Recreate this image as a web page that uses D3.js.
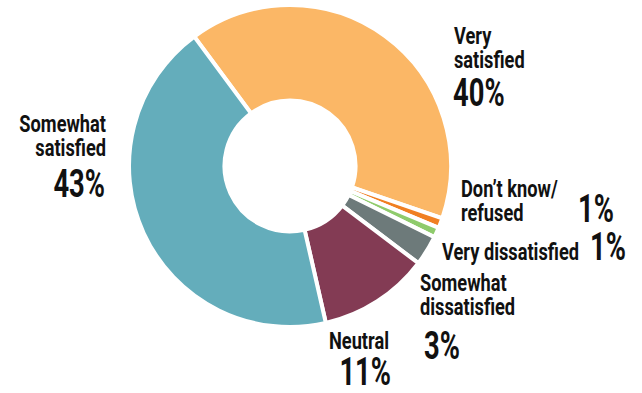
<!DOCTYPE html>
<html>
<head>
<meta charset="utf-8">
<script src="https://cdn.jsdelivr.net/npm/d3@7"></script>
<style>
  body { margin: 0; background: #fff; }
  text { font-family: Roboto, "Open Sans", sans-serif; fill: #111; }
</style>
</head>
<body>
<div id="chart"></div>
<script>
var categories = ["Very satisfied", "Don't know/refused", "Very dissatisfied", "Somewhat dissatisfied", "Neutral", "Somewhat satisfied"];
var values = [40, 1, 1, 3, 11, 43];
var colors = ["#fbb766", "#f07f22", "#8fcb6c", "#6d7a7a", "#833b54", "#64adbb"];
var labelLines = [["Very", "satisfied"], ["Don\u2019t know/", "refused"], ["Very dissatisfied"], ["Somewhat", "dissatisfied"], ["Neutral"], ["Somewhat", "satisfied"]];

var width = 642, height = 393;
var cx = 290, cy = 166;

// label layout: x, y of first line, anchor, where the % goes
var labelPos = [
  {x: 454, y: 44, anchor: "start", px: 453, py: 106, panchor: "start"},
  {x: 461, y: 197, anchor: "start", px: 614, py: 222, panchor: "end"},
  {x: 442, y: 260, anchor: "start", px: 626, py: 260, panchor: "end"},
  {x: 420, y: 291, anchor: "start", px: 424, py: 359, panchor: "start"},
  {x: 389, y: 349, anchor: "end", px: 391, py: 385, panchor: "end"},
  {x: 106, y: 132, anchor: "end", px: 105, py: 197, panchor: "end"}
];

var svg = d3.select("#chart")
  .append("svg")
    .attr("width", width)
    .attr("height", height);

var g = svg.append("g")
    .attr("transform", "translate(" + cx + "," + cy + ")");

var start = -36.5 * Math.PI / 180;
var pie = d3.pie()
    .sort(null)
    .value(function(d) { return d; })
    .startAngle(start)
    .endAngle(start + 2 * Math.PI);

var arc = d3.arc()
    .innerRadius(65.5)
    .outerRadius(161);

g.selectAll("path")
  .data(pie(values))
  .enter()
  .append("path")
    .attr("d", arc)
    .style("fill", function(d, i) { return colors[i]; })
    .style("stroke", "#fff")
    .style("stroke-width", 4)
    .style("stroke-linejoin", "miter");

var labels = svg.selectAll(".label")
  .data(categories)
  .enter()
  .append("g")
    .attr("class", "label");

labels.each(function(d, i) {
  var p = labelPos[i];
  var t = d3.select(this).append("text")
      .attr("transform", "translate(" + p.x + "," + p.y + ") scale(0.76,1)")
      .attr("text-anchor", p.anchor)
      .style("font-size", "24px")
      .style("font-weight", 700);
  labelLines[i].forEach(function(line, j) {
    t.append("tspan")
        .attr("x", 0)
        .attr("y", j * 24.5)
        .text(line);
  });
  d3.select(this).append("text")
      .attr("transform", "translate(" + p.px + "," + p.py + ") scale(0.72,1)")
      .attr("text-anchor", p.panchor)
      .style("font-size", "38px")
      .style("font-weight", 700)
      .text(values[i] + "%");
});
</script>
</body>
</html>
